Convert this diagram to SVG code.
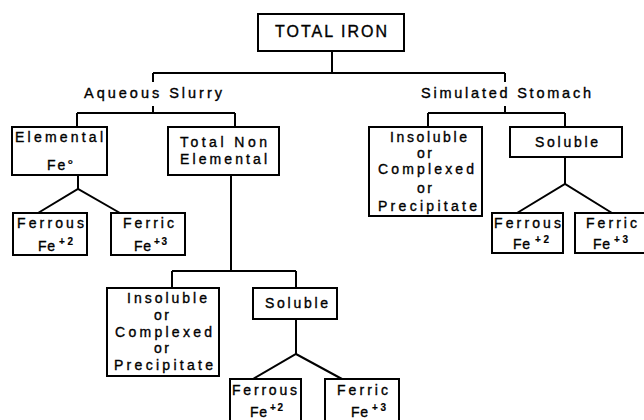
<svg xmlns="http://www.w3.org/2000/svg" width="644" height="420" viewBox="0 0 644 420">
<style>
.box{fill:#fff;stroke:#000;stroke-width:2}
.ln{fill:none;stroke:#000;stroke-width:2;stroke-linejoin:miter}
text{font-family:"Liberation Sans",Arial,sans-serif;fill:#000;stroke:#000;stroke-width:0.35}
.t{font-size:14px}
.h{font-size:14.5px}
.big{font-size:16px}
.sup{font-size:10px;font-weight:bold;stroke-width:0.2}
</style>
<rect width="644" height="420" fill="#fff"/>
<g id="connectors">
<path class="ln" d="M332 51V73M153 73H505M153 73V82M505 73V82"/>
<path class="ln" d="M153 106V113M77 113H235M77 113V127M235 113V127"/>
<path class="ln" d="M505 106V113M428 113H565M428 113V127M565 113V127"/>
<path class="ln" d="M78 175V189M38 213L78 189L120 213"/>
<path class="ln" d="M231 175V271M172 271H296M172 271V288M296 271V288"/>
<path class="ln" d="M296 319V354M253 379L296 354L342 379"/>
<path class="ln" d="M565 157V184M517 213L565 184L612 213"/>
</g>
<g id="total-iron">
<rect class="box" x="258" y="14" width="146" height="37"/>
<text class="big" x="275" y="37" textLength="112" lengthAdjust="spacing">TOTAL IRON</text>
</g>
<g id="aqueous-slurry">
<text class="h" x="84" y="98" textLength="138" lengthAdjust="spacing">Aqueous Slurry</text>
</g>
<g id="simulated-stomach">
<text class="h" x="421" y="98" textLength="170" lengthAdjust="spacing">Simulated Stomach</text>
</g>
<g id="elemental">
<rect class="box" x="12" y="127" width="95" height="48"/>
<text class="t" x="15" y="142" textLength="88" lengthAdjust="spacing">Elemental</text>
<text class="t" x="47" y="170" textLength="26" lengthAdjust="spacing">Fe°</text>
</g>
<g id="total-non-elemental">
<rect class="box" x="168" y="127" width="111" height="48"/>
<text class="t" x="180" y="147" textLength="87" lengthAdjust="spacing">Total Non</text>
<text class="t" x="180" y="164" textLength="87" lengthAdjust="spacing">Elemental</text>
</g>
<g id="ferrous-1">
<rect class="box" x="13" y="213" width="74" height="42"/>
<text class="t" x="17" y="228" textLength="67" lengthAdjust="spacing">Ferrous</text>
<text class="t" x="38" y="251" textLength="17" lengthAdjust="spacing">Fe</text>
<text class="sup" x="59" y="245" textLength="14" lengthAdjust="spacing">+2</text>
</g>
<g id="ferric-1">
<rect class="box" x="111" y="213" width="74" height="42"/>
<text class="t" x="123" y="228" textLength="51" lengthAdjust="spacing">Ferric</text>
<text class="t" x="134" y="251" textLength="17" lengthAdjust="spacing">Fe</text>
<text class="sup" x="154" y="245" textLength="13" lengthAdjust="spacing">+3</text>
</g>
<g id="insoluble-1">
<rect class="box" x="107" y="288" width="112" height="88"/>
<text class="t" x="127" y="303" textLength="80" lengthAdjust="spacing">Insoluble</text>
<text class="t" x="154" y="320" textLength="15" lengthAdjust="spacing">or</text>
<text class="t" x="115" y="337" textLength="97" lengthAdjust="spacing">Complexed</text>
<text class="t" x="154" y="353" textLength="15" lengthAdjust="spacing">or</text>
<text class="t" x="114" y="370" textLength="99" lengthAdjust="spacing">Precipitate</text>
</g>
<g id="soluble-1">
<rect class="box" x="253" y="288" width="84" height="31"/>
<text class="t" x="265" y="308" textLength="63" lengthAdjust="spacing">Soluble</text>
</g>
<g id="ferrous-2">
<rect class="box" x="230" y="379" width="71" height="46"/>
<text class="t" x="232" y="395" textLength="65" lengthAdjust="spacing">Ferrous</text>
<text class="t" x="250" y="417" textLength="17" lengthAdjust="spacing">Fe</text>
<text class="sup" x="270" y="411" textLength="13" lengthAdjust="spacing">+2</text>
</g>
<g id="ferric-2">
<rect class="box" x="325" y="379" width="74" height="46"/>
<text class="t" x="337" y="395" textLength="51" lengthAdjust="spacing">Ferric</text>
<text class="t" x="351" y="417" textLength="17" lengthAdjust="spacing">Fe</text>
<text class="sup" x="372" y="411" textLength="14" lengthAdjust="spacing">+3</text>
</g>
<g id="insoluble-2">
<rect class="box" x="369" y="127" width="113" height="89"/>
<text class="t" x="390" y="142" textLength="77" lengthAdjust="spacing">Insoluble</text>
<text class="t" x="417" y="158" textLength="15" lengthAdjust="spacing">or</text>
<text class="t" x="378" y="174" textLength="96" lengthAdjust="spacing">Complexed</text>
<text class="t" x="417" y="193" textLength="15" lengthAdjust="spacing">or</text>
<text class="t" x="378" y="211" textLength="99" lengthAdjust="spacing">Precipitate</text>
</g>
<g id="soluble-2">
<rect class="box" x="510" y="127" width="112" height="30"/>
<text class="t" x="535" y="147" textLength="63" lengthAdjust="spacing">Soluble</text>
</g>
<g id="ferrous-3">
<rect class="box" x="492" y="213" width="71" height="40"/>
<text class="t" x="494" y="228" textLength="67" lengthAdjust="spacing">Ferrous</text>
<text class="t" x="513" y="249" textLength="17" lengthAdjust="spacing">Fe</text>
<text class="sup" x="535" y="243" textLength="14" lengthAdjust="spacing">+2</text>
</g>
<g id="ferric-3">
<rect class="box" x="575" y="213" width="72" height="40"/>
<text class="t" x="586" y="228" textLength="51" lengthAdjust="spacing">Ferric</text>
<text class="t" x="593" y="249" textLength="17" lengthAdjust="spacing">Fe</text>
<text class="sup" x="614" y="243" textLength="14" lengthAdjust="spacing">+3</text>
</g>
</svg>
